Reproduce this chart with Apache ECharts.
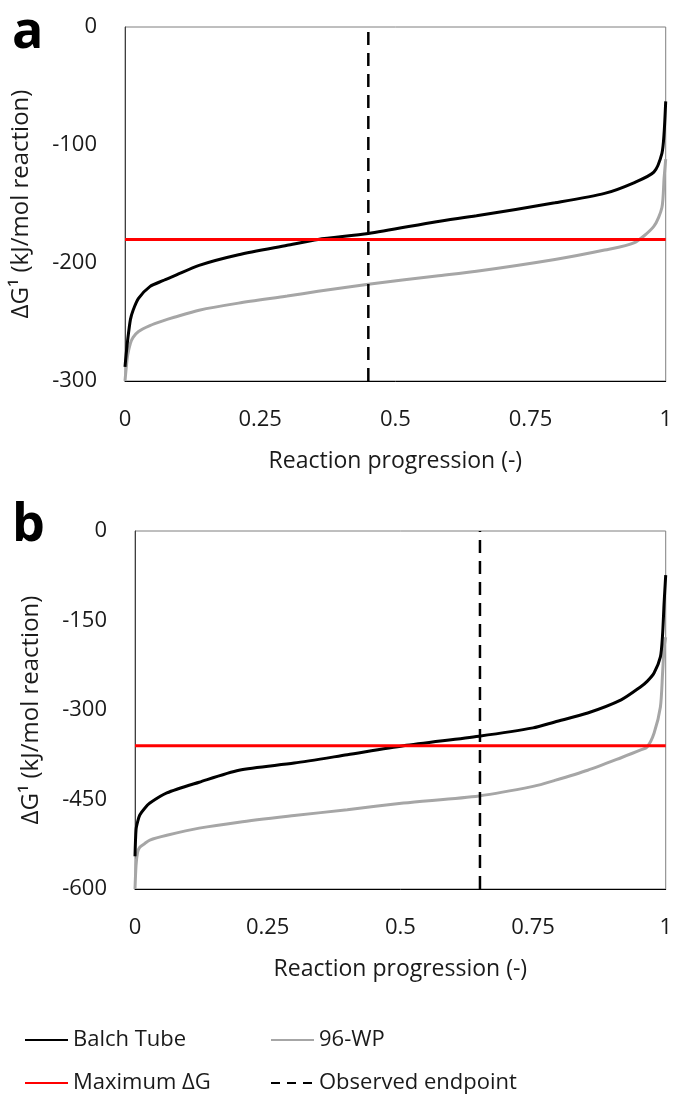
<!DOCTYPE html>
<html>
<head>
<meta charset="utf-8">
<script src="https://cdn.jsdelivr.net/npm/echarts@6/dist/echarts.min.js"></script>
<style>
html,body{margin:0;padding:0;background:#fff;}
#chart{width:675px;height:1106px;}
</style>
</head>
<body>
<div id="chart"></div>
<script>
// ---- Data ----
const xTicks = [0, 0.25, 0.5, 0.75, 1];
const yTicksA = [-300, -200, -100, 0];
const yTicksB = [-600, -450, -300, -150, 0];

// Panel a
const progressA = [0, 0.002, 0.005, 0.01, 0.015, 0.025, 0.046, 0.07, 0.091, 0.137, 0.21, 0.3, 0.357, 0.45, 0.576, 0.65, 0.795, 0.887, 0.941, 0.978, 0.993, 0.997, 1];
const balchA    = [-288, -278, -265, -248, -240, -230, -220, -215, -211, -202, -193, -185, -180, -175, -165, -160, -149, -141, -132, -123, -107, -90, -63];
const wpA       = [-300, -290, -278, -268, -263, -258, -253, -249, -246, -240, -234, -228, -224, -218, -211, -207, -197, -189, -183, -169, -153, -128, -112];
const maxDGA = -180;
const endpointA = 0.45;

// Panel b
const progressB = [0, 0.002, 0.005, 0.009, 0.018, 0.028, 0.06, 0.121, 0.196, 0.3, 0.4, 0.506, 0.648, 0.75, 0.791, 0.853, 0.916, 0.953, 0.965, 0.978, 0.99, 0.994, 0.997, 1];
const balchB    = [-545, -500, -487, -476, -465, -456, -439, -421, -401, -389, -375, -360, -344, -330, -320, -305, -283, -261, -252, -238, -211, -175, -120, -74];
const wpB       = [-600, -560, -538, -530, -524, -518, -510, -498, -488, -477, -467, -456, -444, -428, -418, -401, -380, -367, -362, -339, -295, -240, -195, -178];
const maxDGB = -360;
const endpointB = 0.65;

const seriesNames = ['Balch Tube', '96-WP', 'Maximum ΔG', 'Observed endpoint'];

// ---- Build ----
const FONT = '"Open Sans", "Noto Sans", sans-serif';
const TXT = '#1a1a1a';
const pairs = (xs, ys) => xs.map((x, i) => [x, ys[i]]);

function makeX(gi) {
  return {
    type: 'value', gridIndex: gi, min: xTicks[0], max: xTicks[xTicks.length - 1], interval: 0.25,
    axisLine: {show: true, onZero: false, lineStyle: {color: '#000', width: 1}},
    axisTick: {show: false}, splitLine: {show: false},
    axisLabel: {fontFamily: FONT, fontSize: 22, color: TXT, margin: 28},
    name: 'Reaction progression (-)', nameLocation: 'middle', nameGap: 69,
    nameTextStyle: {fontFamily: FONT, fontSize: 23, color: TXT}
  };
}
function makeY(gi, ticks, interval) {
  return {
    type: 'value', gridIndex: gi, min: ticks[0], max: ticks[ticks.length - 1], interval: interval,
    axisLine: {show: true, onZero: false, lineStyle: {color: '#404040', width: 1}},
    axisTick: {show: false}, splitLine: {show: false},
    axisLabel: {fontFamily: FONT, fontSize: 22, color: TXT, margin: 28},
    name: 'ΔG¹ (kJ/mol reaction)', nameLocation: 'middle', nameGap: 92,
    nameTextStyle: {fontFamily: FONT, fontSize: 24, color: TXT}
  };
}
function panelSeries(gi, xs, balch, wp, maxDG, endpoint, yMin, yMax) {
  const curve = {type: 'line', xAxisIndex: gi, yAxisIndex: gi, symbol: 'none', smooth: 0.25};
  return [
    Object.assign({}, curve, {name: seriesNames[0], data: pairs(xs, balch),
     lineStyle: {color: '#000', width: 3}, itemStyle: {color: '#000'}, z: 4}),
    Object.assign({}, curve, {name: seriesNames[1], data: pairs(xs, wp),
     lineStyle: {color: '#a6a6a6', width: 3}, itemStyle: {color: '#a6a6a6'}, z: 3}),
    {name: seriesNames[2], type: 'line', xAxisIndex: gi, yAxisIndex: gi,
     data: [[xTicks[0], maxDG], [xTicks[xTicks.length - 1], maxDG]],
     symbol: 'none', lineStyle: {color: '#ff0000', width: 3}, itemStyle: {color: '#ff0000'}, z: 5},
    {name: seriesNames[3], type: 'line', xAxisIndex: gi, yAxisIndex: gi,
     data: [[endpoint, yMin], [endpoint, yMax]],
     symbol: 'none', lineStyle: {color: '#000', width: 2.5, type: [13, 8]}, itemStyle: {color: '#000'}, z: 6}
  ];
}

const legendBase = {
  orient: 'horizontal', itemWidth: 43, itemHeight: 14, itemGap: 0, padding: 0,
  itemStyle: {opacity: 0, borderWidth: 0},
  textStyle: {fontFamily: FONT, fontSize: 22, color: TXT},
  selectedMode: false
};

const option = {
  animation: false,
  backgroundColor: '#fff',
  grid: [
    {left: 125, top: 27, width: 547, height: 354, show: true, borderColor: '#7f7f7f', borderWidth: 1, backgroundColor: 'transparent'},
    {left: 135, top: 531, width: 537, height: 358, show: true, borderColor: '#7f7f7f', borderWidth: 1, backgroundColor: 'transparent'}
  ],
  xAxis: [makeX(0), makeX(1)],
  yAxis: [makeY(0, yTicksA, 100), makeY(1, yTicksB, 150)],
  legend: [
    Object.assign({}, legendBase, {left: 24, top: 1029, data: [seriesNames[0]]}),
    Object.assign({}, legendBase, {left: 270, top: 1029, data: [seriesNames[1]]}),
    Object.assign({}, legendBase, {left: 24, top: 1072, data: [seriesNames[2]]}),
    Object.assign({}, legendBase, {left: 270, top: 1072, data: [seriesNames[3]], lineStyle: {type: [9, 7]}})
  ],
  graphic: [
    {type: 'text', left: 12, top: 7, style: {text: 'a', fontFamily: FONT, fontSize: 52, fontWeight: 'bold', fill: '#000'}},
    {type: 'text', left: 12, top: 500, style: {text: 'b', fontFamily: FONT, fontSize: 52, fontWeight: 'bold', fill: '#000'}}
  ],
  series: [].concat(
    panelSeries(0, progressA, balchA, wpA, maxDGA, endpointA, yTicksA[0], yTicksA[yTicksA.length - 1]),
    panelSeries(1, progressB, balchB, wpB, maxDGB, endpointB, yTicksB[0], yTicksB[yTicksB.length - 1])
  )
};

const chart = echarts.init(document.getElementById('chart'), null, {renderer: 'canvas'});
chart.setOption(option);
</script>
</body>
</html>
